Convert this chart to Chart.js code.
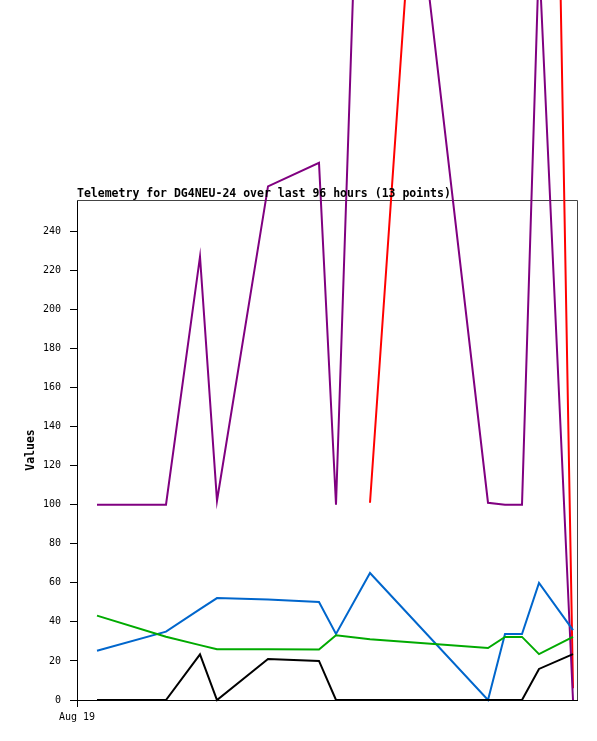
<!DOCTYPE html>
<html>
<head>
<meta charset="utf-8">
<title>Telemetry for DG4NEU-24</title>
<script src="https://cdn.jsdelivr.net/npm/chart.js@4.4.1/dist/chart.umd.min.js"></script>
<style>
    html, body { margin: 0; padding: 0; background: #ffffff; }
    #telemetryChart { display: block; }
</style>
</head>
<body>
<canvas id="telemetryChart" width="597" height="741"></canvas>
<script>
// Time of each sample, hours after Aug 19 00:00
const sampleHours = [1.0, 4.45, 6.15, 7.0, 9.55, 12.1, 12.95, 14.65, 20.55, 21.4, 22.25, 23.1, 24.8];

// Telemetry channels
const purpleValues = [100, 100, 227, 102, 263, 275, 100, 622, 101, 100, 100, 381, 0];
const redValues    = [null, null, null, null, null, null, null, 101, 971, 975, 978, 981, 6];
const blueValues   = [25.2, 35, 46.5, 52.2, 51.5, 50.2, 33.8, 65, 0, 33.8, 33.8, 60, 35.8];
const greenValues  = [43.2, 32.4, 28.1, 26, 26, 25.8, 33.1, 31.1, 26.6, 32.3, 32.3, 23.5, 32.3];
const blackValues  = [0, 0, 23.4, 0, 21, 20, 0, 0, 0, 0, 0, 15.9, 23.5];

// Axis ticks
const yTickValues = [0, 20, 40, 60, 80, 100, 120, 140, 160, 180, 200, 220, 240];
const xTickValues = [0];
const xTickLabels = ['Aug 19'];

const chartTitle = 'Telemetry for DG4NEU-24 over last 96 hours (13 points)';

function toPoints(values) {
    return values.map((v, i) => ({ x: sampleHours[i], y: v }));
}

function lineSet(label, values, color) {
    return {
        label: label,
        data: toPoints(values),
        borderColor: color,
        backgroundColor: color,
        borderWidth: 2,
        pointRadius: 0,
        pointHoverRadius: 0,
        tension: 0,
        fill: false,
        clip: false,
        spanGaps: false
    };
}

// Title over the plot and grey frame on the top / right edges
const framePlugin = {
    id: 'framePlugin',
    beforeDatasetsDraw(chart) {
        const { ctx, chartArea } = chart;
        ctx.save();
        ctx.strokeStyle = '#444444';
        ctx.lineWidth = 1;
        ctx.beginPath();
        ctx.moveTo(chartArea.left, chartArea.top + 0.5);
        ctx.lineTo(chartArea.right + 0.5, chartArea.top + 0.5);
        ctx.lineTo(chartArea.right + 0.5, chartArea.bottom);
        ctx.stroke();
        ctx.restore();
    },
    afterDraw(chart) {
        const { ctx, chartArea } = chart;
        ctx.save();
        ctx.font = 'bold 11.5px "DejaVu Sans Mono"';
        ctx.fillStyle = '#000000';
        ctx.textAlign = 'left';
        ctx.textBaseline = 'alphabetic';
        ctx.fillText(chartTitle, chartArea.left, chartArea.top - 3);
        ctx.restore();
    }
};

const ctx = document.getElementById('telemetryChart').getContext('2d');
const telemetryChart = new Chart(ctx, {
    type: 'line',
    data: {
        datasets: [
            lineSet('Black', blackValues, '#000000'),
            lineSet('Green', greenValues, '#00aa00'),
            lineSet('Blue', blueValues, '#0066cc'),
            lineSet('Purple', purpleValues, '#800080'),
            lineSet('Red', redValues, '#ff0000')
        ]
    },
    options: {
        responsive: false,
        animation: false,
        events: [],
        layout: {
            padding: { left: 20, top: 200, right: 20, bottom: 0 }
        },
        plugins: {
            legend: { display: false },
            title: { display: false },
            tooltip: { enabled: false }
        },
        scales: {
            x: {
                type: 'linear',
                min: 0,
                max: 25,
                afterBuildTicks: (scale) => {
                    scale.ticks = xTickValues.map(v => ({ value: v }));
                },
                afterFit: (scale) => { scale.height = 41; },
                grid: {
                    drawOnChartArea: false,
                    drawTicks: true,
                    tickLength: 7,
                    color: '#000000'
                },
                border: { display: true, color: '#000000', width: 1 },
                ticks: {
                    padding: 4,
                    maxRotation: 0,
                    autoSkip: false,
                    color: '#000000',
                    font: { family: '"DejaVu Sans Mono"', size: 10 },
                    callback: (value) => {
                        const i = xTickValues.indexOf(value);
                        return i >= 0 ? xTickLabels[i] : '';
                    }
                }
            },
            y: {
                type: 'linear',
                min: 0,
                max: 256,
                afterBuildTicks: (scale) => {
                    scale.ticks = yTickValues.map(v => ({ value: v }));
                },
                afterFit: (scale) => { scale.width = 57; },
                grid: {
                    drawOnChartArea: false,
                    drawTicks: true,
                    tickLength: 7,
                    color: '#000000'
                },
                border: { display: true, color: '#000000', width: 1 },
                ticks: {
                    padding: 9,
                    autoSkip: false,
                    color: '#000000',
                    font: { family: '"DejaVu Sans Mono"', size: 10 }
                },
                title: {
                    display: true,
                    text: 'Values',
                    color: '#000000',
                    padding: { top: 4, bottom: 4 },
                    font: { family: '"DejaVu Sans Mono"', size: 11.5, weight: 'bold' }
                }
            }
        }
    },
    plugins: [framePlugin]
});
</script>
</body>
</html>
